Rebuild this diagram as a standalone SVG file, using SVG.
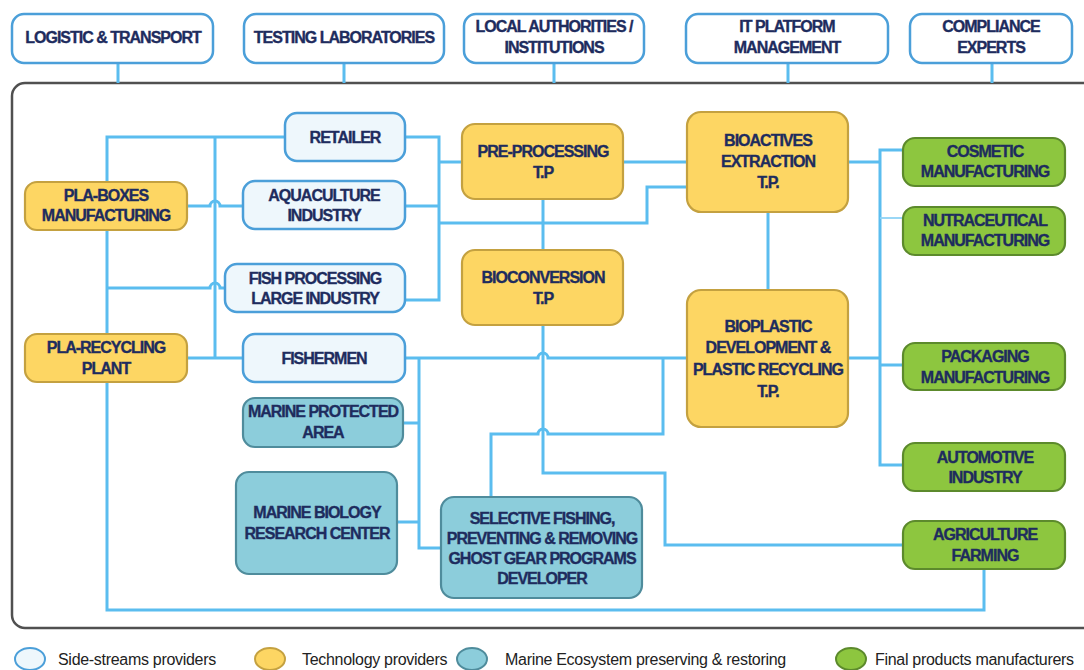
<svg xmlns="http://www.w3.org/2000/svg" width="1084" height="670" viewBox="0 0 1084 670">
<style>
.t{font-family:"Liberation Sans",Arial,sans-serif;font-weight:bold;font-size:16px;letter-spacing:-1px;fill:#1e2c5e;stroke:#1e2c5e;stroke-width:0.35px;text-anchor:middle}
.lg{font-family:"Liberation Sans",Arial,sans-serif;font-size:16px;letter-spacing:-0.3px;fill:#222}
.top{fill:#ffffff;stroke:#4b9fd9;stroke-width:2.5}
.side{fill:#eef7fc;stroke:#4b9fd9;stroke-width:2.5}
.tech{fill:#fdd663;stroke:#c4a140;stroke-width:2.2}
.mar{fill:#8ccddb;stroke:#4f8c9c;stroke-width:2.2}
.fin{fill:#8dc63f;stroke:#5c8a2c;stroke-width:2.2}
.c{fill:none;stroke:#5bbdef;stroke-width:3}
.thin{fill:none;stroke:#8fd3f5;stroke-width:1.8}
</style>
<rect id="frame" x="12" y="83" width="1092" height="545" rx="13" fill="none" stroke="#505050" stroke-width="2.5"/>
<g id="connectors">
<path class="c" d="M118 63V83M344 63V83M554 63V83M788 63V83M992 63V83"/>
<path class="c" d="M285 137H107V182"/>
<path class="c" d="M215 137V358"/>
<path class="c" d="M187 206H210A5 5 0 0 1 220 206H243"/>
<path class="c" d="M107 230V334"/>
<path class="c" d="M107 288H210A5 5 0 0 1 220 288H225"/>
<path class="c" d="M187 358H243"/>
<path class="c" d="M107 382V610H984V569"/>
<path class="c" d="M405 137H439V300H405M405 206H439M439 162H462M439 223H647V187H687"/>
<path class="c" d="M623 162H687"/>
<path class="c" d="M543 199V250"/>
<path class="c" d="M768 212V290"/>
<path class="c" d="M405 358H538A5 5 0 0 1 548 358H687"/>
<path class="c" d="M419 358V548H441M403 423H419M397 522H419"/>
<path class="c" d="M663 358V434H548A5 5 0 0 0 538 434H491V497"/>
<path class="c" d="M543 325V473H665V545H903"/>
<path class="c" d="M848 162H880M848 358H880M903 150H880V465H903M880 365H903"/>
<path class="thin" d="M880 218H903"/>
</g>
<g id="logistic"><rect class="top" x="12" y="14" width="201" height="49" rx="12"/><text class="t" x="113" y="43">LOGISTIC &amp; TRANSPORT</text></g>
<g id="testing"><rect class="top" x="244" y="14" width="200" height="49" rx="12"/><text class="t" x="344" y="43">TESTING LABORATORIES</text></g>
<g id="local"><rect class="top" x="464" y="14" width="180" height="49" rx="12"/><text class="t" x="554" y="32">LOCAL AUTHORITIES /</text><text class="t" x="554" y="53">INSTITUTIONS</text></g>
<g id="itplatform"><rect class="top" x="686" y="14" width="202" height="49" rx="12"/><text class="t" x="787" y="32">IT PLATFORM</text><text class="t" x="787" y="53">MANAGEMENT</text></g>
<g id="compliance"><rect class="top" x="910" y="14" width="162" height="49" rx="12"/><text class="t" x="991" y="32">COMPLIANCE</text><text class="t" x="991" y="53">EXPERTS</text></g>
<g id="retailer"><rect class="side" x="285" y="113" width="120" height="48" rx="12"/><text class="t" x="345" y="143">RETAILER</text></g>
<g id="aquaculture"><rect class="side" x="243" y="181" width="162" height="48" rx="12"/><text class="t" x="324" y="201">AQUACULTURE</text><text class="t" x="324" y="221">INDUSTRY</text></g>
<g id="fishprocessing"><rect class="side" x="225" y="264" width="180" height="48" rx="12"/><text class="t" x="315" y="284">FISH PROCESSING</text><text class="t" x="315" y="304">LARGE INDUSTRY</text></g>
<g id="fishermen"><rect class="side" x="243" y="334" width="162" height="48" rx="12"/><text class="t" x="324" y="364">FISHERMEN</text></g>
<g id="mpa"><rect class="mar" x="243" y="398" width="160" height="49" rx="12"/><text class="t" x="323" y="417">MARINE PROTECTED</text><text class="t" x="323" y="438">AREA</text></g>
<g id="mbrc"><rect class="mar" x="236" y="472" width="161" height="102" rx="13"/><text class="t" x="317" y="518">MARINE BIOLOGY</text><text class="t" x="317" y="539">RESEARCH CENTER</text></g>
<g id="selective"><rect class="mar" x="441" y="497" width="201" height="101" rx="13"/><text class="t" x="542" y="524">SELECTIVE FISHING,</text><text class="t" x="542" y="544">PREVENTING &amp; REMOVING</text><text class="t" x="542" y="564">GHOST GEAR PROGRAMS</text><text class="t" x="542" y="584">DEVELOPER</text></g>
<g id="plaboxes"><rect class="tech" x="25" y="182" width="162" height="48" rx="12"/><text class="t" x="106" y="201">PLA-BOXES</text><text class="t" x="106" y="221">MANUFACTURING</text></g>
<g id="plarecycling"><rect class="tech" x="25" y="334" width="162" height="48" rx="12"/><text class="t" x="106" y="353">PLA-RECYCLING</text><text class="t" x="106" y="374">PLANT</text></g>
<g id="preprocessing"><rect class="tech" x="462" y="124" width="161" height="75" rx="13"/><text class="t" x="543" y="157">PRE-PROCESSING</text><text class="t" x="543" y="178">T.P</text></g>
<g id="bioconversion"><rect class="tech" x="462" y="250" width="161" height="75" rx="13"/><text class="t" x="543" y="283">BIOCONVERSION</text><text class="t" x="543" y="304">T.P</text></g>
<g id="bioactives"><rect class="tech" x="687" y="112" width="161" height="100" rx="14"/><text class="t" x="768" y="146">BIOACTIVES</text><text class="t" x="768" y="167">EXTRACTION</text><text class="t" x="768" y="188">T.P.</text></g>
<g id="bioplastic"><rect class="tech" x="687" y="290" width="161" height="137" rx="14"/><text class="t" x="768" y="332">BIOPLASTIC</text><text class="t" x="768" y="353">DEVELOPMENT &amp;</text><text class="t" x="768" y="375">PLASTIC RECYCLING</text><text class="t" x="768" y="397">T.P.</text></g>
<g id="cosmetic"><rect class="fin" x="903" y="138" width="162" height="48" rx="12"/><text class="t" x="985" y="157">COSMETIC</text><text class="t" x="985" y="177">MANUFACTURING</text></g>
<g id="nutraceutical"><rect class="fin" x="903" y="207" width="162" height="48" rx="12"/><text class="t" x="985" y="226">NUTRACEUTICAL</text><text class="t" x="985" y="246">MANUFACTURING</text></g>
<g id="packaging"><rect class="fin" x="903" y="343" width="162" height="47" rx="12"/><text class="t" x="985" y="362">PACKAGING</text><text class="t" x="985" y="383">MANUFACTURING</text></g>
<g id="automotive"><rect class="fin" x="903" y="443" width="162" height="48" rx="12"/><text class="t" x="985" y="463">AUTOMOTIVE</text><text class="t" x="985" y="483">INDUSTRY</text></g>
<g id="agriculture"><rect class="fin" x="903" y="521" width="162" height="48" rx="12"/><text class="t" x="985" y="540">AGRICULTURE</text><text class="t" x="985" y="561">FARMING</text></g>
<g id="legend">
<ellipse cx="30" cy="659" rx="15" ry="11" fill="#eef7fc" stroke="#4b9fd9" stroke-width="2"/>
<text class="lg" x="58" y="665">Side-streams providers</text>
<ellipse cx="270" cy="659" rx="15" ry="11" fill="#fdd663" stroke="#c4a140" stroke-width="2"/>
<text class="lg" x="302" y="665">Technology providers</text>
<ellipse cx="472" cy="659" rx="15" ry="11" fill="#8ccddb" stroke="#4f8c9c" stroke-width="2"/>
<text class="lg" x="505" y="665">Marine Ecosystem preserving &amp; restoring</text>
<ellipse cx="851" cy="659" rx="15" ry="11" fill="#8dc63f" stroke="#5c8a2c" stroke-width="2"/>
<text class="lg" x="875" y="665">Final products manufacturers</text>
</g>
</svg>
